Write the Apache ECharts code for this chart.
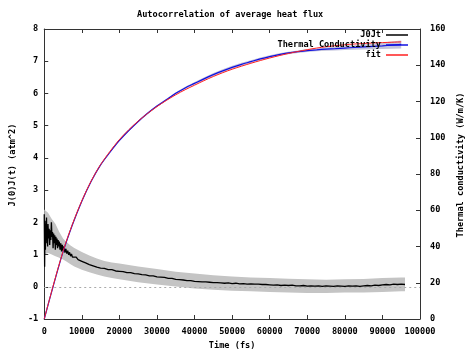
<!DOCTYPE html>
<html><head><meta charset="utf-8">
<script src="https://cdn.jsdelivr.net/npm/echarts@6/dist/echarts.min.js"></script>
<style>html,body{margin:0;padding:0;background:#fff}#c{width:474px;height:355px}</style>
</head><body><div id="c"></div>
<script>
// ---- data ----
const titleText = 'Autocorrelation of average heat flux';
const xName = 'Time (fs)';
const yLeftName = 'J(0)J(t) (atm^2)';
const yRightName = 'Thermal conductivity (W/m/K)';
const seriesNames = ['J0Jt', 'Thermal Conductivity', 'fit'];

// J(0)J(t): [time fs, value]
const jData = [
[0,2.25],[100,0.62],[200,2.05],[300,1.15],[400,1.95],[500,1.35],[600,2.15],[700,1.45],[800,1.85],[900,1.25],
[1000,1.95],[1150,1.5],[1300,1.8],[1450,1.3],[1600,1.75],[1750,1.45],[1900,2.0],[2050,1.55],[2200,1.7],[2350,1.2],
[2500,1.65],[2650,1.35],[2800,1.6],[2950,1.15],[3100,1.55],[3250,1.3],[3400,1.5],[3550,1.2],[3700,1.45],[3850,1.25],
[4000,1.4],[4200,1.15],[4400,1.35],[4600,1.1],[4800,1.3],[5000,1.12],[5250,1.25],[5500,1.06],[5750,1.18],[6000,1.03],
[6250,1.12],[6500,0.99],[6750,1.07],[7000,0.95],[7250,1.02],[7500,0.92],[7750,0.97],[8000,0.89],[8500,0.92],[9000,0.84],
[9500,0.86],[10000,0.79],[10500,0.8],[11000,0.74],[11500,0.75],[12000,0.69],[12500,0.7],[13000,0.65],[13500,0.66],[14000,0.61],
[14500,0.62],[15000,0.58],[16000,0.57],[17000,0.53],[18000,0.53],[19000,0.49],[20000,0.48],[21000,0.47],[22000,0.44],[23000,0.44],
[24000,0.41],[25000,0.40],[26000,0.38],[27000,0.37],[28000,0.34],[29000,0.34],[30000,0.31],[31000,0.30],[32000,0.29],[33000,0.26],
[34000,0.26],[35000,0.23],[36000,0.22],[37000,0.21],[38000,0.19],[39000,0.19],[40000,0.17],[41000,0.16],[42000,0.15],[43000,0.15],
[44000,0.14],[45000,0.13],[46000,0.13],[47000,0.12],[48000,0.11],[49000,0.12],[50000,0.10],[51000,0.11],[52000,0.09],[53000,0.10],
[54000,0.08],[55000,0.09],[56000,0.08],[57000,0.08],[58000,0.07],[59000,0.07],[60000,0.06],[61000,0.05],[62000,0.06],[63000,0.04],
[64000,0.05],[65000,0.04],[66000,0.05],[67000,0.03],[68000,0.03],[69000,0.04],[70000,0.02],[71000,0.03],[72000,0.02],[73000,0.03],
[74000,0.01],[75000,0.03],[76000,0.02],[77000,0.01],[78000,0.03],[79000,0.02],[80000,0.01],[81000,0.03],[82000,0.02],[83000,0.03],
[84000,0.01],[85000,0.03],[86000,0.04],[87000,0.03],[88000,0.05],[89000,0.04],[90000,0.06],[91000,0.07],[92000,0.06],[93000,0.08],
[94000,0.07],[95000,0.08],[96000,0.07]
];

// J error band: [time, low, high]
const jBand = [
[0,1.0,2.4],[1000,1.05,2.3],[2000,1.0,2.1],[3000,0.95,1.95],[4000,0.9,1.7],[5000,0.85,1.5],[6000,0.78,1.38],
[7000,0.7,1.28],[8000,0.63,1.2],[10000,0.53,1.08],[12000,0.45,0.97],[14000,0.38,0.88],[16000,0.32,0.8],
[18000,0.27,0.75],[20000,0.23,0.72],[25000,0.14,0.63],[30000,0.07,0.55],[35000,0.01,0.47],[40000,-0.05,0.41],
[45000,-0.09,0.36],[50000,-0.12,0.32],[55000,-0.14,0.29],[60000,-0.16,0.27],[65000,-0.18,0.25],[70000,-0.19,0.23],
[75000,-0.19,0.22],[80000,-0.18,0.23],[85000,-0.18,0.24],[90000,-0.16,0.27],[95000,-0.14,0.29],[96000,-0.14,0.29]
];

// thermal conductivity (W/m/K)
const kTime = [0,2500,5000,7500,10000,12500,15000,17500,20000,22500,25000,27500,30000,32500,35000,37500,40000,
42500,45000,47500,50000,52500,55000,57500,60000,62500,65000,67500,70000,72500,75000,77500,80000,82500,85000,87500,90000,92500,95000];
const kValue = [0,19,37,52,65,76,85,92,98.5,104,109,113.5,117.5,121,124.5,127.5,130,
132.5,134.8,136.9,138.8,140.5,142,143.5,144.8,145.9,146.8,147.5,148.1,148.5,148.9,149.2,149.5,149.8,150.1,150.4,150.7,151.1,151.5];
const kErr = [0,0.2,0.3,0.3,0.3,0.3,0.3,0.3,0.4,0.4,0.4,0.5,0.5,0.5,0.6,0.6,0.7,
0.8,0.9,0.9,0.9,0.9,0.8,0.8,0.7,0.7,0.7,0.7,0.8,0.8,0.9,1,1.1,1.2,1.4,1.6,1.8,2,2.2];
const fitValue = [0,19.3,37.3,52.3,65.2,76.2,85.2,92.5,99,104.4,109.2,113.4,117.2,120.6,123.7,126.5,129,
131.5,133.8,135.9,137.8,139.5,141.1,142.6,144,145.3,146.5,147.6,148.6,149.5,150.2,150.8,151.3,151.7,152,152.3,152.5,152.7,152.9];

// ---- chart ----
const FF = 'DejaVu Sans Mono';
const FS = 8.6;
const txt = {fontFamily: FF, fontSize: FS, fontWeight: 'bold', color: '#000'};
const axisLineStyle = {color: '#333', width: 1};

// band drawn as a polygon through the axes' own scales
function bandSeries(name, yIdx, rows, color) {
  return {
    name: name, type: 'custom', yAxisIndex: yIdx, silent: true, clip: true,
    data: [[rows[0][0], rows[0][1]]],
    renderItem: function (params, api) {
      const top = [], bot = [];
      for (const r of rows) {
        top.push(api.coord([r[0], r[2]]));
        bot.push(api.coord([r[0], r[1]]));
      }
      return {type: 'polygon', shape: {points: top.concat(bot.reverse())},
              style: {fill: color, stroke: null}};
    }
  };
}

const kBand = kTime.map((t, i) => [t, kValue[i] - kErr[i], kValue[i] + kErr[i]]);

const chart = echarts.init(document.getElementById('c'), null, {renderer: 'canvas'});
chart.setOption({
  animation: false,
  backgroundColor: '#fff',
  title: {text: titleText, left: 137, top: 10, textStyle: Object.assign({}, txt), padding: 0},
  grid: {left: 43, right: 54, top: 29, bottom: 32},
  legend: {
    data: seriesNames, orient: 'vertical', align: 'right', right: 66, top: 30,
    itemWidth: 22, itemHeight: 1.5, itemGap: 0, icon: 'rect', padding: 0,
    textStyle: Object.assign({lineHeight: 10}, txt)
  },
  xAxis: [
    {type: 'value', min: 0, max: 100000, interval: 10000, position: 'bottom',
     name: xName, nameLocation: 'middle', nameGap: 22, nameTextStyle: Object.assign({}, txt),
     axisLine: {show: true, onZero: false, lineStyle: axisLineStyle},
     axisTick: {show: true, inside: true, length: 4, lineStyle: axisLineStyle},
     axisLabel: Object.assign({margin: 8, formatter: v => String(v)}, txt), splitLine: {show: false}},
    {type: 'value', min: 0, max: 100000, interval: 10000, position: 'top',
     axisLine: {show: true, onZero: false, lineStyle: axisLineStyle},
     axisTick: {show: true, inside: true, length: 4, lineStyle: axisLineStyle},
     axisLabel: {show: false}, splitLine: {show: false}}
  ],
  yAxis: [
    {type: 'value', min: -1, max: 8, interval: 1, position: 'left',
     name: yLeftName, nameLocation: 'middle', nameGap: 20, nameRotate: 90,
     nameTextStyle: Object.assign({padding: [0, 0, 0, 18]}, txt),
     axisLine: {show: true, onZero: false, lineStyle: axisLineStyle},
     axisTick: {show: true, inside: true, length: 4, lineStyle: axisLineStyle},
     axisLabel: Object.assign({margin: 6}, txt), splitLine: {show: false}},
    {type: 'value', min: 0, max: 160, interval: 20, position: 'right',
     name: yRightName, nameLocation: 'middle', nameGap: 29, nameRotate: 90,
     nameTextStyle: Object.assign({padding: [0, 0, 0, 18]}, txt),
     axisLine: {show: true, onZero: false, lineStyle: axisLineStyle},
     axisTick: {show: true, inside: true, length: 4, lineStyle: axisLineStyle},
     axisLabel: Object.assign({margin: 10}, txt), splitLine: {show: false}}
  ],
  series: [
    bandSeries('jBand', 0, jBand, '#c4c4c4'),
    {name: seriesNames[0], type: 'line', symbol: 'none', data: jData,
     itemStyle: {color: '#000'}, lineStyle: {color: '#000', width: 1.3},
     markLine: {silent: true, symbol: 'none', label: {show: false},
       lineStyle: {color: '#aaa', type: [2, 3], width: 1}, data: [{yAxis: 0}]}},
    bandSeries('kBand', 1, kBand, '#c4c4dc'),
    {name: seriesNames[1], type: 'line', yAxisIndex: 1, symbol: 'none', smooth: 0.3,
     data: kTime.map((t, i) => [t, kValue[i]]),
     itemStyle: {color: '#1010e0'}, lineStyle: {color: '#1010e0', width: 1.2}},
    {name: seriesNames[2], type: 'line', yAxisIndex: 1, symbol: 'none', smooth: 0.3,
     data: kTime.map((t, i) => [t, fitValue[i]]),
     itemStyle: {color: '#ff2020'}, lineStyle: {color: '#ff2020', width: 1}}
  ]
});
</script>
</body></html>
